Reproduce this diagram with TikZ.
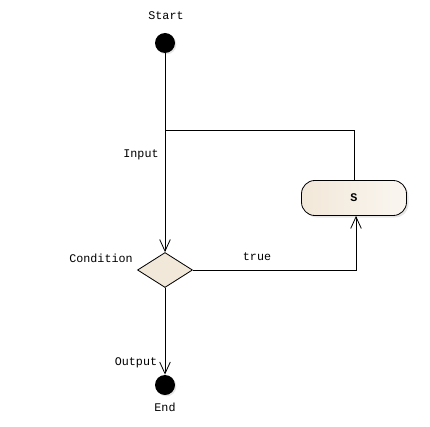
\documentclass[tikz,border=0pt]{standalone}
\usepackage{fontspec}
\setmonofont{Liberation Mono}
\usetikzlibrary{shapes.geometric,arrows.meta,positioning,shadows}

\definecolor{actfill}{RGB}{242,232,217}
\tikzset{
 every path/.style={line width=0.7pt},
 lbl/.style={font=\ttfamily, inner sep=1pt},
 dot/.style={circle, fill=black, minimum size=0.6cm, inner sep=0pt,
  drop shadow={shadow xshift=0.04cm, shadow yshift=-0.04cm, opacity=0.2}},
 action/.style={draw, rounded corners=0.4cm, minimum width=3.15cm, minimum height=1.05cm,
  drop shadow={shadow xshift=0.06cm, shadow yshift=-0.06cm, opacity=0.2},
  preaction={left color=actfill, right color=actfill!40}, font=\ttfamily\bfseries},
 decision/.style={diamond, draw, preaction={fill=actfill},
  minimum width=1.65cm, minimum height=1.05cm, inner sep=0pt},
 flow/.style={-{Straight Barb[length=3.5mm,width=3.2mm]}}
}

\begin{document}
\begin{tikzpicture}[x=0.03cm,y=0.03cm]
 \useasboundingbox (0,0) rectangle (430,-426);
 % nodes
 \node[dot] (start) at (165,-43) {};
 \node[lbl] (lstart) at (166,-16) {Start};
 \coordinate (merge) at (165,-130);
 \node[decision] (cond) at (165,-270) {};
 \node[action] (s) at (354,-198) {S};
 \node[dot] (end) at (165,-385) {};
 \node[lbl] (lend) at (165,-407) {End};

 % labels
 \node[lbl] (linput) at (141,-155) {Input};
 \node[lbl] (lcond) at (101,-258) {Condition};
 \node[lbl] (ltrue) at (257,-257) {true};
 \node[lbl] (loutput) at (136,-363) {Output};

 % connectors
 \draw[flow] (start) -- (cond);
 \draw (s.north) |- (merge);
 \draw[flow] (cond.east) -| ([xshift=0.06cm]s.south);
 \draw[flow] (cond) -- (end);
\end{tikzpicture}
\end{document}
